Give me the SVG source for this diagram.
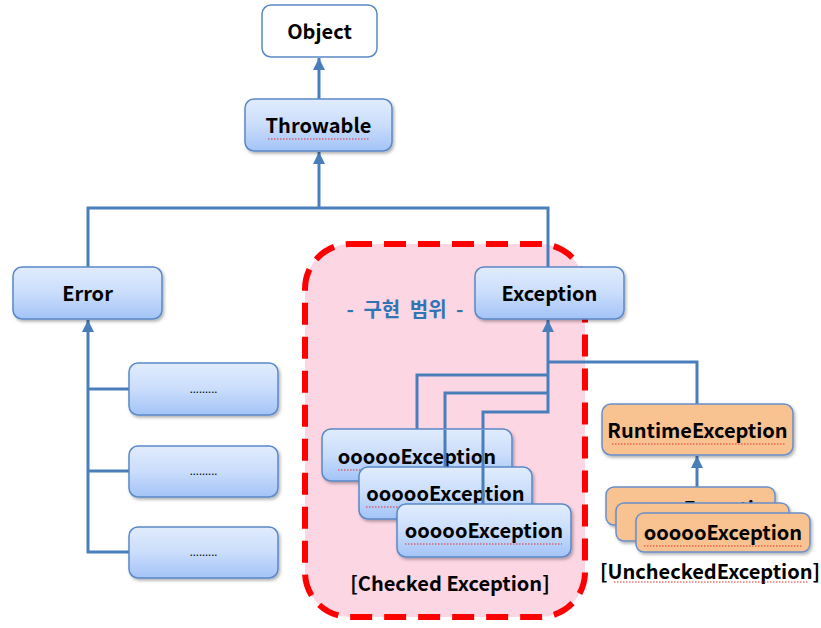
<svg xmlns="http://www.w3.org/2000/svg" width="821" height="628" viewBox="0 0 821 628">
<defs>
<linearGradient id="blue" x1="0" y1="0" x2="0" y2="1">
<stop offset="0" stop-color="#E1ECFD"/>
<stop offset="0.5" stop-color="#CADDFB"/>
<stop offset="1" stop-color="#A3C3F7"/>
</linearGradient>
<filter id="sh" x="-10%" y="-10%" width="130%" height="140%">
<feDropShadow dx="1.5" dy="2" stdDeviation="1.5" flood-color="#000" flood-opacity="0.3"/>
</filter>
<marker id="ah" viewBox="0 0 10 10" refX="10" refY="5" markerWidth="4" markerHeight="4" orient="auto" markerUnits="strokeWidth">
<path d="M0,0 L10,5 L0,10 z" fill="#4A7EBB"/>
</marker>
</defs>
<style>
.b{fill:url(#blue);stroke:#5A88C6;stroke-width:1.5;filter:url(#sh)}
.w{fill:#fff;stroke:#5A88C6;stroke-width:1.5}
.o{fill:#F8C291;stroke:#6A8FC8;stroke-width:1.5;filter:url(#sh)}
.t{font-family:"Noto Sans CJK KR","Noto Sans",sans-serif;font-weight:bold;font-size:20px;fill:#000;text-anchor:middle}
.d{font-family:"Noto Sans CJK KR",sans-serif;font-size:11px;fill:#000;text-anchor:middle}
.c{fill:none;stroke:#4A7EBB;stroke-width:3}
.sq{fill:none;stroke:#E03030;stroke-width:1;stroke-dasharray:1.5 1.5}
</style>
<rect id="scope" x="305" y="244" width="280" height="373" rx="45" fill="#FDD6E4" stroke="#FF0000" stroke-width="6" stroke-dasharray="22 12"/>
<text x="405" y="317" style="font-family:'Noto Sans CJK KR',sans-serif;font-weight:bold;font-size:20px;fill:#2E75B6;text-anchor:middle;word-spacing:5px">- 구현 범위 -</text>
<g id="connectors">
<line class="c" x1="319" y1="99" x2="319" y2="58" marker-end="url(#ah)"/>
<polyline class="c" points="88,267 88,208 548,208 548,267"/>
<line class="c" x1="319" y1="208" x2="319" y2="152" marker-end="url(#ah)"/>
<polyline class="c" points="129,552 88,552 88,320" marker-end="url(#ah)"/>
<line class="c" x1="88" y1="389" x2="129" y2="389"/>
<line class="c" x1="88" y1="471" x2="129" y2="471"/>
<polyline class="c" points="483,504 483,412 548,412 548,320" marker-end="url(#ah)"/>
<polyline class="c" points="417,430 417,375 548,375"/>
<polyline class="c" points="445,467 445,393 548,393"/>
<polyline class="c" points="548,362 697,362 697,404"/>
<line class="c" x1="697" y1="487" x2="697" y2="456" marker-end="url(#ah)"/>
</g>
<g id="object"><rect class="w" x="262" y="5" width="115" height="52" rx="9"/><text class="t" x="319.5" y="39">Object</text></g>
<g id="throwable"><rect class="b" x="245" y="99" width="147" height="52" rx="9"/><text class="t" x="318.5" y="133">Throwable</text><path class="sq" d="M268,139 H370"/></g>
<g id="error"><rect class="b" x="13" y="267" width="149" height="52" rx="9"/><text class="t" x="87.5" y="301">Error</text></g>
<g id="exception"><rect class="b" x="475" y="267" width="149" height="52" rx="9"/><text class="t" x="549.5" y="301">Exception</text></g>
<g id="err1"><rect class="b" x="129" y="363" width="149" height="52" rx="9"/><text class="d" x="203.5" y="393">.........</text></g>
<g id="err2"><rect class="b" x="129" y="446" width="149" height="51" rx="9"/><text class="d" x="203.5" y="475">.........</text></g>
<g id="err3"><rect class="b" x="129" y="527" width="149" height="51" rx="9"/><text class="d" x="203.5" y="556">.........</text></g>
<g id="checked1"><rect class="b" x="322" y="429" width="190" height="52" rx="9"/><text class="t" x="417" y="464">oooooException</text><path class="sq" d="M338,470 H496"/></g>
<line class="c" x1="445" y1="430" x2="445" y2="467"/>
<line class="c" x1="483" y1="430" x2="483" y2="504"/>
<g id="checked2"><rect class="b" x="359" y="467" width="173" height="52" rx="9"/><text class="t" x="445.5" y="501">oooooException</text><path class="sq" d="M366,507 H524"/></g>
<line class="c" x1="483" y1="467" x2="483" y2="504"/>
<g id="checked3"><rect class="b" x="397" y="504" width="174" height="53" rx="9"/><text class="t" x="484" y="538">oooooException</text><path class="sq" d="M405,544 H562"/></g>
<text x="450" y="591" style="font-family:'Noto Sans CJK KR',sans-serif;font-weight:bold;font-size:20px;fill:#000;text-anchor:middle">[Checked Exception]</text>
<g id="runtime"><rect class="o" x="602" y="404" width="191" height="51" rx="9"/><text class="t" x="697.5" y="438">RuntimeException</text><path class="sq" d="M612,444 H785"/></g>
<g id="unchecked1"><rect class="o" x="606" y="487" width="169" height="38" rx="8"/><text class="t" x="700" y="516">oooooException</text></g>
<g id="unchecked2"><rect class="o" x="616" y="503" width="173" height="38" rx="8"/></g>
<g id="unchecked3"><rect class="o" x="636" y="513" width="174" height="39" rx="8"/><text class="t" x="723" y="540">oooooException</text><path class="sq" d="M644,546 H802"/></g>
<text x="710" y="579" style="font-family:'Noto Sans CJK KR',sans-serif;font-weight:bold;font-size:20px;fill:#000;text-anchor:middle">[UncheckedException]</text>
<path class="sq" d="M614,582 H808"/>
</svg>
